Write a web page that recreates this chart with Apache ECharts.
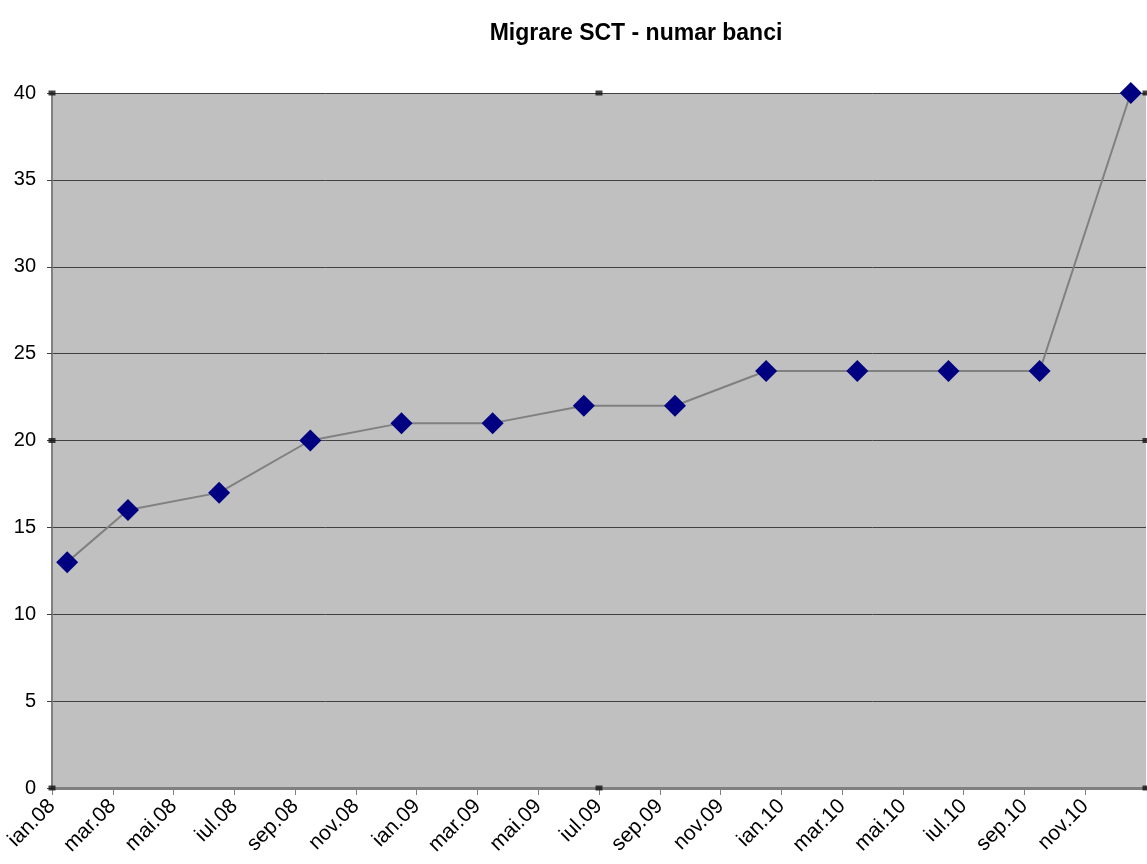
<!DOCTYPE html>
<html>
<head>
<meta charset="utf-8">
<script src="https://cdn.jsdelivr.net/npm/echarts@6/dist/echarts.min.js"></script>
<style>
  html, body { margin: 0; padding: 0; background: #ffffff; }
  #chart { width: 1147px; height: 864px; }
</style>
</head>
<body>
<div id="chart"></div>
<script>
// Number of banks migrated to SCT, by reporting month
const months = ['2008-01', '2008-03', '2008-06', '2008-09', '2008-12',
                '2009-03', '2009-06', '2009-09', '2009-12',
                '2010-03', '2010-06', '2010-09', '2010-12'];
const banks = [13, 16, 17, 20, 21, 21, 22, 22, 24, 24, 24, 24, 40];

// Romanian short month names for the date axis
const monthNames = ['ian', 'feb', 'mar', 'apr', 'mai', 'iun',
                    'iul', 'aug', 'sep', 'oct', 'nov', 'dec'];
const startYear = 2008;
const spanMonths = 36;   // ian.08 .. ian.11
const yMax = 40;

// month index counted from ian.08, each point centred within its month
function monthIndex(s) {
  const [y, m] = s.split('-').map(Number);
  return (y - startYear) * 12 + (m - 1) + 0.5;
}
function monthLabel(v) {
  if (v >= spanMonths) return '';
  const y = startYear + Math.floor(v / 12);
  return monthNames[v % 12] + '.' + String(y % 100).padStart(2, '0');
}

const seriesData = months.map((m, i) => [monthIndex(m), banks[i]]);

// small black handles around the plot frame
const handles = [];
[0, spanMonths / 2, spanMonths].forEach(x => {
  [0, yMax / 2, yMax].forEach(y => {
    if (x === spanMonths / 2 && y === yMax / 2) return;
    handles.push([x, y]);
  });
});

const font = 'Liberation Sans, Arial, sans-serif';
const chart = echarts.init(document.getElementById('chart'), null, { renderer: 'canvas' });
chart.setOption({
  backgroundColor: '#ffffff',
  animation: false,
  title: {
    text: 'Migrare SCT - numar banci',
    left: 631,
    textAlign: 'center',
    top: 17,
    textStyle: { fontFamily: font, fontSize: 23, fontWeight: 'bold', color: '#000' }
  },
  grid: {
    left: 52, right: 1, top: 93, bottom: 76,
    show: true, backgroundColor: '#c0c0c0', borderWidth: 0
  },
  xAxis: {
    type: 'value',
    min: 0, max: spanMonths, interval: 2,
    axisLine: { show: true, lineStyle: { color: '#808080', width: 3 } },
    axisTick: { show: true, length: 7, lineStyle: { color: '#808080', width: 1 } },
    splitLine: { show: false },
    axisLabel: {
      rotate: 45, margin: 15, showMaxLabel: false,
      fontFamily: font, fontSize: 21, color: '#000',
      formatter: monthLabel
    }
  },
  yAxis: {
    type: 'value',
    min: 0, max: yMax, interval: 5,
    axisLine: { show: true, lineStyle: { color: '#808080', width: 2 } },
    axisTick: { show: true, length: 5, lineStyle: { color: '#404040', width: 1 } },
    splitLine: { show: true, lineStyle: { color: '#404040', width: 1 } },
    axisLabel: { margin: 16, fontFamily: font, fontSize: 20, color: '#000' }
  },
  series: [
    {
      type: 'line',
      data: seriesData,
      symbol: 'diamond',
      symbolSize: 22,
      clip: false,
      lineStyle: { color: '#808080', width: 2 },
      itemStyle: { color: '#000080' },
      z: 3
    },
    {
      type: 'scatter',
      data: handles,
      symbol: 'rect',
      symbolSize: [7, 5],
      silent: true,
      clip: false,
      itemStyle: { color: '#111111' },
      z: 4
    }
  ]
});
</script>
</body>
</html>
